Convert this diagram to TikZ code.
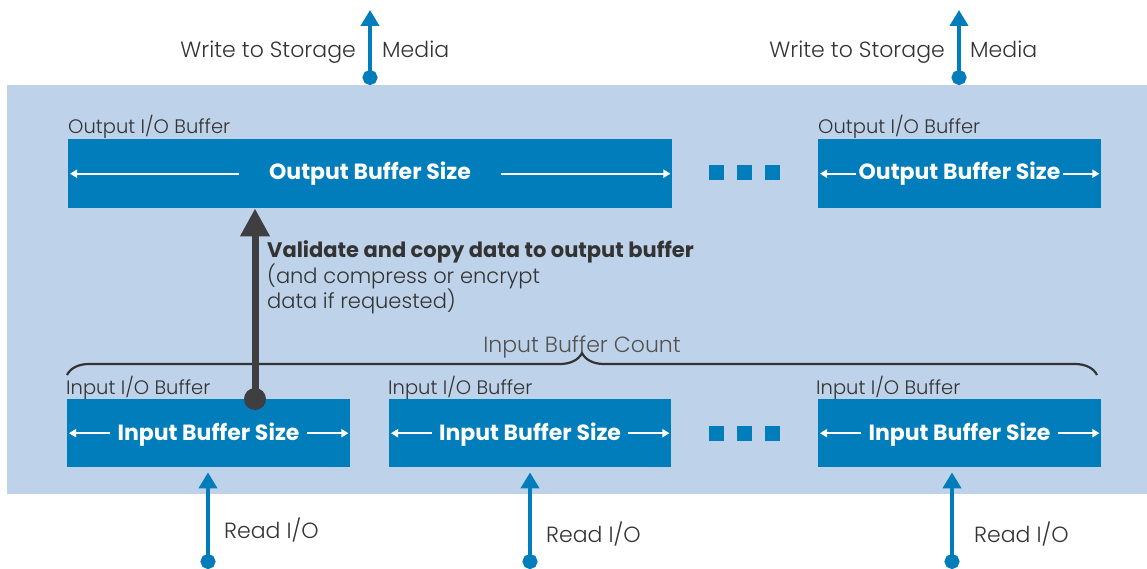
\documentclass[tikz,border=0pt]{standalone}
\usepackage{fontspec}
\setmainfont{Poppins}
\newfontfamily\lightfont{Poppins Light}
\usetikzlibrary{arrows.meta,decorations.pathreplacing}
\definecolor{bgblue}{HTML}{BED3EA}
\definecolor{boxblue}{HTML}{007DBA}
\definecolor{txt}{HTML}{333333}
\definecolor{darrow}{HTML}{3F3F41}
\tikzset{
  buf/.style={fill=boxblue,draw=none,anchor=north west,minimum height=69pt,inner sep=0pt},
  lbl/.style={anchor=base west,inner sep=0pt,text=txt,font=\lightfont\fontsize{19.5}{22}\selectfont},
  size/.style={anchor=base,text=white,font=\bfseries\fontsize{22}{25}\selectfont,inner sep=0pt},
  warrow/.style={draw=white,line width=1.8pt,-{Triangle[width=8pt,length=7pt]},shorten >=2pt},
  barrow/.style={draw=boxblue,line width=4pt,{Circle[length=15pt]}-{Triangle[width=18pt,length=16pt]}},
  plain/.style={text=txt,font=\lightfont\fontsize{22}{25}\selectfont,inner sep=0pt},
  dot/.style={fill=boxblue,minimum width=15pt,minimum height=15pt,inner sep=0pt}
}
\begin{document}
\begin{tikzpicture}[x=1pt,y=-1pt]
\useasboundingbox (0,0) rectangle (1147,569);
% background panel
\fill[bgblue] (7,85) rectangle (1147,494);
% output buffers
\node[buf,minimum width=604pt] (ob1) at (68,139) {};
\node[buf,minimum width=283pt] (ob2) at (818,139) {};
\node[lbl] (obl1) at (68,134) {Output I/O Buffer};
\node[lbl] (obl2) at (818,134) {Output I/O Buffer};
\node[size,inner xsep=30pt] (obs1) at (370,180) {Output Buffer Size};
\node[size,inner xsep=2pt] (obs2) at (959.5,180) {Output Buffer Size};
\draw[warrow] (obs1.west |- ob1.center) -- (ob1.west);
\draw[warrow] (obs1.east |- ob1.center) -- (ob1.east);
\draw[warrow] (obs2.west |- ob2.center) -- (ob2.west);
\draw[warrow] (obs2.east |- ob2.center) -- (ob2.east);
% dots top
\node[dot] (dt1) at (716,172.5) {};
\node[dot] (dt2) at (744,172.5) {};
\node[dot] (dt3) at (772,172.5) {};
% input buffers
\node[buf,minimum width=283pt,minimum height=68pt] (ib1) at (67,399) {};
\node[buf,minimum width=282pt,minimum height=68pt] (ib2) at (389,399) {};
\node[buf,minimum width=283pt,minimum height=68pt] (ib3) at (818,399) {};
\node[lbl] (ibl1) at (66,394) {Input I/O Buffer};
\node[lbl] (ibl2) at (388,394) {Input I/O Buffer};
\node[lbl] (ibl3) at (816,394) {Input I/O Buffer};
\node[size,inner xsep=7pt] (ibs1) at (208.5,440) {Input Buffer Size};
\node[size,inner xsep=7pt] (ibs2) at (530,440) {Input Buffer Size};
\node[size,inner xsep=7pt] (ibs3) at (959.5,440) {Input Buffer Size};
\draw[warrow] (ibs1.west |- ib1.center) -- (ib1.west);
\draw[warrow] (ibs1.east |- ib1.center) -- (ib1.east);
\draw[warrow] (ibs2.west |- ib2.center) -- (ib2.west);
\draw[warrow] (ibs2.east |- ib2.center) -- (ib2.east);
\draw[warrow] (ibs3.west |- ib3.center) -- (ib3.west);
\draw[warrow] (ibs3.east |- ib3.center) -- (ib3.east);
% dots bottom
\node[dot] (db1) at (716,433) {};
\node[dot] (db2) at (744,433) {};
\node[dot] (db3) at (772,433) {};
% brace
\coordinate (bl) at (67,375);
\coordinate (br) at (1097,375);
\draw[txt,line width=2.2pt,decorate,decoration={brace,amplitude=22pt}] (bl) -- (br);
\node[plain,anchor=base,text=txt!85] (ibc) at (582,352) {Input Buffer Count};
% validate arrow
\coordinate (vs) at (255,399);
\fill[darrow] (vs) circle (11pt);
\draw[darrow,line width=7pt,-{Triangle[width=28pt,length=28pt]}] (vs) -- (ob1.south -| vs);
\node[anchor=base west,inner sep=0pt,text=txt,font=\bfseries\fontsize{21}{25}\selectfont] (vt1) at (267,257)
  {Validate and copy data to output buffer};
\node[anchor=base west,inner sep=0pt,text=txt,font=\lightfont\fontsize{21}{25}\selectfont] (vt2) at (267,283)
  {(and compress or encrypt};
\node[anchor=base west,inner sep=0pt,text=txt,font=\lightfont\fontsize{21}{25}\selectfont] (vt3) at (267,308)
  {data if requested)};
% write arrows
\coordinate (w1s) at (370,85);
\coordinate (w1e) at (370,10);
\coordinate (w2s) at (959,85);
\coordinate (w2e) at (959,10);
\draw[barrow] (w1s) -- (w1e);
\draw[barrow] (w2s) -- (w2e);
\node[plain,anchor=base east] (wl1) at (356,58) {Write to Storage};
\node[plain,anchor=base west] (wm1) at (382,58) {Media};
\node[plain,anchor=base east] (wl2) at (945,58) {Write to Storage};
\node[plain,anchor=base west] (wm2) at (970,58) {Media};
% read arrows
\coordinate (r1s) at (208,569);
\coordinate (r2s) at (530,569);
\coordinate (r3s) at (952,569);
\draw[barrow,shorten >=5pt] (r1s) -- (ib1.south -| r1s);
\draw[barrow,shorten >=5pt] (r2s) -- (ib2.south -| r2s);
\draw[barrow,shorten >=5pt] (r3s) -- (ib3.south -| r3s);
\node[plain,anchor=base west] (rl1) at (224,538) {Read I/O};
\node[plain,anchor=base west] (rl2) at (546,542) {Read I/O};
\node[plain,anchor=base west] (rl3) at (974,542) {Read I/O};
\end{tikzpicture}
\end{document}
